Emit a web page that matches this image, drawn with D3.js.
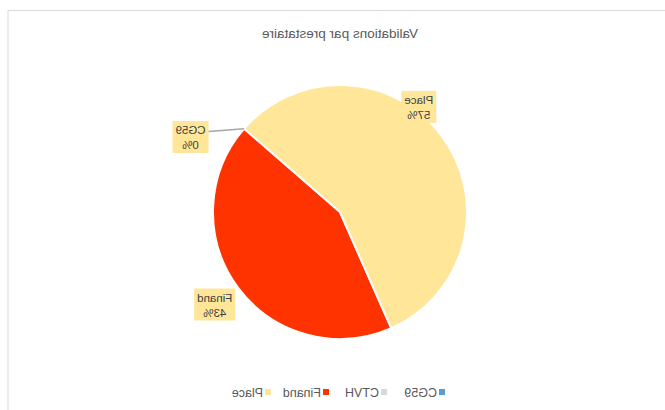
<!DOCTYPE html>
<html>
<head>
<meta charset="utf-8">
<script src="https://cdn.jsdelivr.net/npm/d3@7/dist/d3.min.js"></script>
<style>
  html, body { margin: 0; padding: 0; background: #fff; }
  svg { display: block; font-family: "Liberation Sans", Arial, sans-serif; }
</style>
</head>
<body>
<svg id="chart" width="665" height="410"></svg>
<script>
// Data
const categories = ["CG59", "CTVH", "Finand", "Place"];
const values = [0, 0, 43, 57];
const colors = ["#5B9BD5", "#D9D9D9", "#FF3300", "#FFE699"];
const title = "Validations par prestataire";

const W = 665, H = 410;
const svg = d3.select("#chart");

// The whole drawing is rendered as a horizontal mirror image
const root = svg.append("g").attr("transform", `translate(${W},0) scale(-1,1)`);

// Chart frame
root.append("rect")
  .attr("x", -5).attr("y", 10.5)
  .attr("width", 662).attr("height", 420)
  .attr("fill", "#fff").attr("stroke", "#D9D9D9").attr("stroke-width", 1);

// Title
root.append("text")
  .attr("x", 325).attr("y", 38)
  .attr("text-anchor", "middle")
  .attr("font-size", 13.5)
  .attr("fill", "#595959")
  .text(title);

// Pie
const cx = 325, cy = 212, R = 127;
const startDeg = 49;
const pie = d3.pie().sort(null)
  .startAngle(startDeg * Math.PI / 180)
  .endAngle(startDeg * Math.PI / 180 + 2 * Math.PI)
  .value(d => d.v);
const data = categories.map((c, i) => ({ c, v: values[i], col: colors[i] }));
const arcs = pie(data);
const arc = d3.arc().innerRadius(0).outerRadius(R);

const g = root.append("g").attr("transform", `translate(${cx},${cy})`);
g.selectAll("path").data(arcs.filter(d => d.data.v > 0)).join("path")
  .attr("d", arc)
  .attr("fill", d => d.data.col)
  .attr("stroke", "#fff")
  .attr("stroke-width", 2)
  .attr("stroke-linejoin", "round");

// Data labels: placement angle (deg, clockwise from top) and distance from centre
const labelPlacement = {
  "CG59": { a: 63.5, r: 167 },
  "Finand": { a: 126.6, r: 156 },
  "Place": { a: 323, r: 131 }
};
const pct = d3.format(".0%");
const total = d3.sum(values);

arcs.filter(d => labelPlacement[d.data.c]).forEach(d => {
  const p = labelPlacement[d.data.c];
  const ang = p.a * Math.PI / 180;
  const lx = p.r * Math.sin(ang), ly = -p.r * Math.cos(ang);
  const txt = [d.data.c, pct(d.data.v / total)];
  const lg = g.append("g").attr("transform", `translate(${lx},${ly})`);
  const t = lg.append("text")
    .attr("text-anchor", "middle")
    .attr("font-size", 11.5)
    .attr("fill", "#404040");
  txt.forEach((s, i) => t.append("tspan").attr("x", 0).attr("y", i === 0 ? -3.5 : 11.5).text(s));
  const bb = t.node().getBBox();
  lg.insert("rect", "text")
    .attr("x", bb.x - 3).attr("y", bb.y - 3)
    .attr("width", bb.width + 6).attr("height", bb.height + 5)
    .attr("fill", "#FFE699");
  // leader line for zero-size slice
  if (d.data.v === 0) {
    const a0 = d.startAngle;
    const ex = R * Math.sin(a0), ey = -R * Math.cos(a0);
    g.append("polyline")
      .attr("points", `${ex},${ey} ${lx + bb.x - 3},${ly - 6}`)
      .attr("fill", "none")
      .attr("stroke", "#A6A6A6")
      .attr("stroke-width", 1.5);
  }
});

// Legend
const legend = root.append("g").attr("transform", "translate(0,392)");
const itemX = d3.scalePoint().domain(categories).range([223, 397]);
categories.forEach((c, i) => {
  const x = itemX(c);
  legend.append("rect")
    .attr("x", x - 3).attr("y", -3)
    .attr("width", 6).attr("height", 6)
    .attr("fill", colors[i]);
  legend.append("text")
    .attr("x", x + 5).attr("y", 4.5)
    .attr("font-size", 12.5)
    .attr("fill", "#595959")
    .text(c);
});
</script>
</body>
</html>
